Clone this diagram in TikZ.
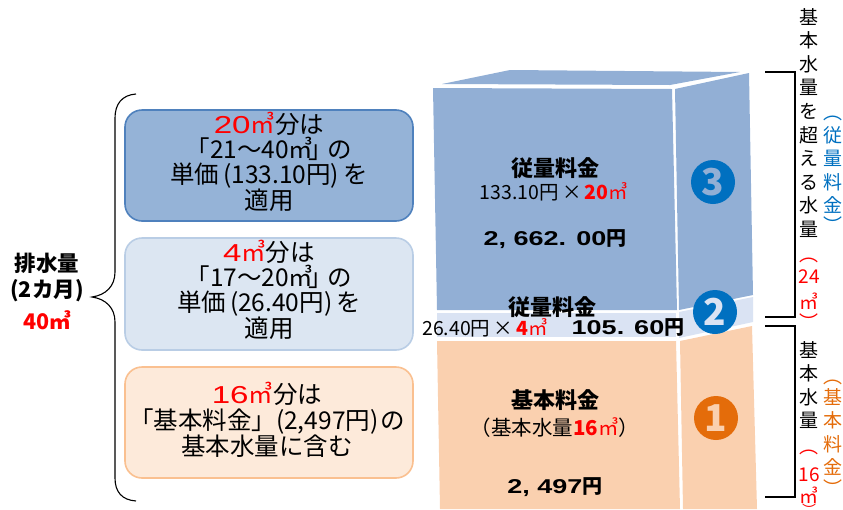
\documentclass[tikz,border=0pt]{standalone}
\usepackage{fontspec}
\setmainfont{Noto Sans CJK JP}
\newfontfamily\widefont[FakeStretch=1.35]{Liberation Sans}
\definecolor{cubeblue}{HTML}{92AFD5}
\definecolor{cubelight}{HTML}{DAE3F3}
\definecolor{cubeorange}{HTML}{FAD0AF}
\definecolor{boxblue}{HTML}{95B3D7}
\definecolor{boxblueline}{HTML}{4F81BD}
\definecolor{boxlight}{HTML}{DCE6F2}
\definecolor{boxlightline}{HTML}{B9CDE5}
\definecolor{boxorange}{HTML}{FDEADA}
\definecolor{boxorangeline}{HTML}{FAC090}
\definecolor{badgeblue}{HTML}{0070C0}
\definecolor{badgeorange}{HTML}{E46C0A}
\tikzset{
  roundbox/.style={rounded corners=17pt,line width=1.6pt},
  boxtext/.style={inner sep=0pt,align=center,font=\fontsize{24.5}{25}\selectfont},
  cubehead/.style={inner sep=0pt,font=\fontsize{22}{24}\selectfont\bfseries},
  cubesub/.style={inner sep=0pt,font=\fontsize{19.5}{22}\selectfont},
  cubeamt/.style={inner sep=0pt,font=\fontsize{20}{22}\selectfont\bfseries},
  lefttext/.style={inner sep=0pt,font=\fontsize{21.5}{24}\selectfont\bfseries},
  badge/.style={circle,minimum size=44pt,inner sep=0pt,font=\fontsize{37}{37}\selectfont\bfseries},
  vcol/.style={inner sep=0pt,anchor=north,align=center,font=\fontsize{19}{23.6}\selectfont},
  vone/.style={inner sep=0pt,font=\fontsize{19}{22}\selectfont},
  vparen/.style={inner sep=0pt,anchor=base,font=\fontsize{19}{22}\selectfont},
  bracket/.style={line width=1.2pt,black},
}
\newcommand{\redb}[1]{\textcolor{red}{\bfseries #1}}
\begin{document}
\begin{tikzpicture}[x=1pt,y=-1pt]
\useasboundingbox (0,0) rectangle (843,509);
% cube
\fill[cubeblue] (442,84) -- (510,70) -- (740,72) -- (670,85) -- cycle;
\fill[cubeblue] (433,88) -- (672,89) -- (677,310) -- (437,310) -- cycle;
\fill[cubeblue] (675,89) -- (749,73) -- (753,295) -- (679,310) -- cycle;
\fill[cubelight] (437,313) -- (676,313) -- (676,337) -- (437,337) -- cycle;
\fill[cubelight] (679,312) -- (753,297) -- (753,322) -- (679,338) -- cycle;
\fill[cubeorange] (437,341) -- (676,341) -- (680,509) -- (440,509) -- cycle;
\fill[cubeorange] (680,341) -- (752,326) -- (757,509) -- (683,509) -- cycle;
% left boxes
\draw[roundbox,draw=boxblueline,fill=boxblue] (125,110) rectangle (413,221);
\draw[roundbox,draw=boxlightline,fill=boxlight] (125,238) rectangle (413,350);
\draw[roundbox,draw=boxorangeline,fill=boxorange] (125,367) rectangle (413,478);
\node[boxtext] (boxa) at (269,162) {{\color{red}{\widefont 20}㎥}分は\\「21～40㎥\hspace{-5pt}」\hspace{-5pt}の\\単価\,(133.10円)\,を\\適用};
\node[boxtext] (boxb) at (269,290) {{\color{red}{\widefont 4}㎥}分は\\「17～20㎥\hspace{-5pt}」\hspace{-5pt}の\\単価\,(26.40円)\,を\\適用};
\node[boxtext,font=\fontsize{24.5}{26}\selectfont] (boxc) at (267,420) {{\color{red}{\widefont 16}㎥}分は\\「基本料金」(2,497円)\hspace{2pt}の\\基本水量に含む};
% brace
\draw[line width=1.1pt] (136,94) .. controls (122,95) and (115,104) .. (115,118) -- (115,272)
  .. controls (115,286) and (106,295) .. (92,297)
  .. controls (106,299) and (115,308) .. (115,322) -- (115,478)
  .. controls (115,492) and (122,500) .. (136,501);
\node[lefttext] (lefta) at (47,263) {排水量};
\node[lefttext] (leftb) at (47,291) {(2カ月)};
\node[lefttext,text=red] (leftc) at (47,320) {40㎥};
% cube text
\node[cubehead] (heada) at (555,168) {従量料金};
\node[cubesub] (suba) at (554,192) {133.10円\,×\,\redb{20}{\color{red}㎥}};
\node[cubeamt] (amta) at (555,239) {{\widefont\bfseries 2, 662. 00}円};
\node[cubehead] (headb) at (552,307) {従量料金};
\node[cubesub] (subb) at (485,328) {26.40円\,×\,\redb{4}{\color{red}㎥}};
\node[cubeamt] (amtb) at (628,328) {{\widefont\bfseries 105. 60}円};
\node[cubehead] (headc) at (555,400) {基本料金};
\node[cubesub,font=\fontsize{20.5}{22}\selectfont] (subc) at (555,428) {（基本水量\redb{16}{\color{red}㎥}）};
\node[cubeamt] (amtc) at (555,487) {{\widefont\bfseries 2, 497}円};
% badges
\node[badge,fill=badgeblue,text=cubeblue] (badgec) at (713,182) {3};
\node[badge,fill=badgeblue,text=cubelight] (badgeb) at (715,312) {2};
\node[badge,fill=badgeorange,text=cubeorange] (badgea) at (716,418) {1};
% brackets
\draw[bracket] (765,72) -- (795,72) -- (795,317) -- (765,317);
\draw[bracket] (765,326) -- (795,326) -- (795,497) -- (765,497);
% vertical texts
\node[vcol] (vtopa) at (809,8) {基\\本\\水\\量\\を\\超\\え\\る\\水\\量};
\node[vparen,text=red] (vp1) at (809,261.5) {︵};
\node[vone,text=red] (vn1) at (809,277) {24};
\node[vone,text=red] (vm1) at (809,301) {㎥};
\node[vparen,text=red] (vq1) at (809,329) {︶};
\node[vparen,text=badgeblue] (vp3) at (833,119) {︵};
\node[vcol,text=badgeblue] (vtopc) at (833,126) {従\\量\\料\\金};
\node[vparen,text=badgeblue] (vq3) at (833,232) {︶};
\node[vcol] (vbota) at (809,341) {基\\本\\水\\量};
\node[vparen,text=red] (vp2) at (809,453) {︵};
\node[vone,text=red] (vn2) at (809,475) {16};
\node[vone,text=red] (vm2) at (809,495) {㎥};
\node[vparen,text=red,font=\fontsize{14}{16}\selectfont] (vq2) at (809,515) {︶};
\node[vparen,text=badgeorange] (vp4) at (833,383) {︵};
\node[vcol,text=badgeorange] (vbotc) at (833,388) {基\\本\\料\\金};
\node[vparen,text=badgeorange] (vq4) at (833,495) {︶};
\end{tikzpicture}
\end{document}
